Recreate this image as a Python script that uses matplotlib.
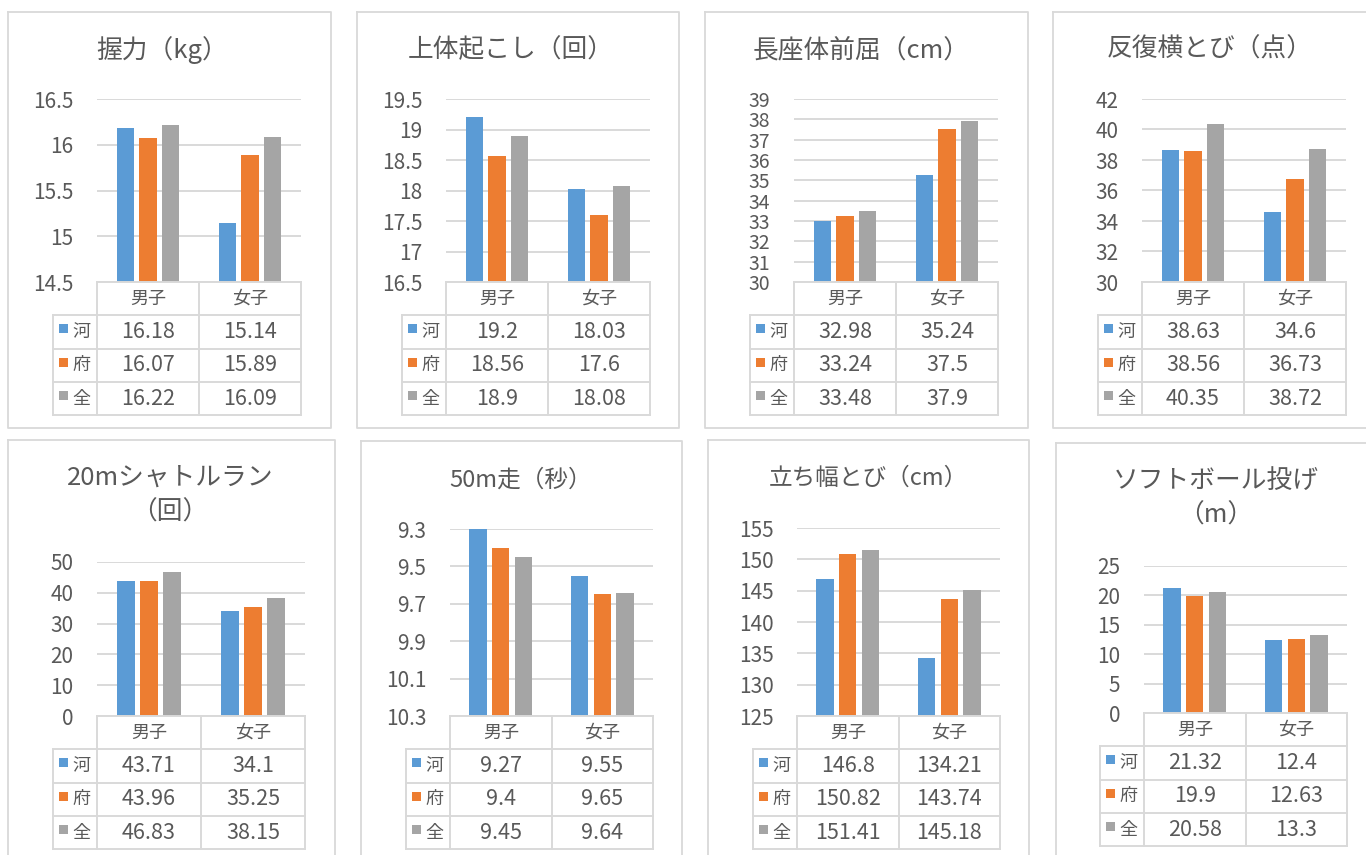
import matplotlib
matplotlib.use('Agg')
import matplotlib.pyplot as plt
import numpy as np

plt.rcParams['font.family'] = ['Noto Sans CJK JP', 'DejaVu Sans']

W, H = 1366, 855
TXT = '#595959'
LINE = '#D9D9D9'

categories = ['男子', '女子']
series_names = ['河', '府', '全']
colors = ['#5B9BD5', '#ED7D31', '#A5A5A5']

titles = ['握力（kg）', '上体起こし（回）', '長座体前屈（cm）', '反復横とび（点）',
          '20mシャトルラン\n（回）', '50m走（秒）', '立ち幅とび（cm）', 'ソフトボール投げ\n（m）']

# rows: 河, 府, 全 / columns: 男子, 女子
grip = [[16.18, 15.14], [16.07, 15.89], [16.22, 16.09]]
situp = [[19.2, 18.03], [18.56, 17.6], [18.9, 18.08]]
sitreach = [[32.98, 35.24], [33.24, 37.5], [33.48, 37.9]]
sidestep = [[38.63, 34.6], [38.56, 36.73], [40.35, 38.72]]
shuttle = [[43.71, 34.1], [43.96, 35.25], [46.83, 38.15]]
dash50 = [[9.27, 9.55], [9.4, 9.65], [9.45, 9.64]]
jump = [[146.8, 134.21], [150.82, 143.74], [151.41, 145.18]]
throw = [[21.32, 12.4], [19.9, 12.63], [20.58, 13.3]]

all_data = [grip, situp, sitreach, sidestep, shuttle, dash50, jump, throw]

# axis min, max, number of ticks, reversed?
y_ranges = [(14.5, 16.5, 5, False), (16.5, 19.5, 7, False), (30, 39, 10, False),
            (30, 42, 7, False), (0, 50, 6, False), (9.3, 10.3, 6, True),
            (125, 155, 7, False), (0, 25, 6, False)]

# layout in pixels: panel border box, plot box, title centre
borders = [(8, 12, 331, 428), (357, 12, 679, 428), (705, 12, 1028, 428), (1053, 12, 1380, 428),
           (8, 440, 335, 870), (361, 441, 682, 870), (708, 440, 1029, 870), (1056, 443, 1380, 870)]
plots = [(97, 99, 301, 282), (446, 99, 650, 282), (794, 99, 998, 282), (1142, 99, 1346, 282),
         (97, 562, 305, 716), (450, 529, 653, 716), (797, 528, 1000, 716), (1144, 566, 1347, 713)]
title_pos = [(162, 50), (511, 50), (861, 50), (1210, 50),
             (170, 478), (521, 480), (868, 478), (1216, 481)]
title_size = [18.5, 18.5, 18.5, 18.5, 18.5, 17, 17, 18.5]
tick_size = [15, 15, 14, 15, 15, 15, 15, 15]

fig = plt.figure(figsize=(W / 100, H / 100), dpi=100)
fig.patch.set_facecolor('white')

over = fig.add_axes([0, 0, 1, 1], zorder=5)
over.set_xlim(0, W)
over.set_ylim(H, 0)
over.axis('off')

ROW = 33.3
for i, data in enumerate(all_data):
    bx0, by0, bx1, by1 = borders[i]
    over.plot([bx0, bx1, bx1, bx0, bx0], [by0, by0, by1, by1, by0], color=LINE, lw=1.3)

    # title
    tx, ty = title_pos[i]
    for k, line in enumerate(titles[i].split('\n')):
        over.text(tx, ty + k * 35, line, ha='center', va='center', fontsize=title_size[i], color=TXT)

    # bars
    px0, py0, px1, py1 = plots[i]
    ax = fig.add_axes([px0 / W, 1 - py1 / H, (px1 - px0) / W, (py1 - py0) / H])
    lo, hi, n, rev = y_ranges[i]
    base = hi if rev else lo
    x = np.arange(len(categories))
    for s in range(3):
        vals = np.array(data[s])
        ax.bar(x + (s - 1) * 0.222, vals - base, bottom=base,
               width=0.172, color=colors[s], zorder=3)
    ticks = np.linspace(lo, hi, n)
    ax.set_yticks(ticks)
    ax.set_yticklabels([f'{round(t, 2):g}' for t in ticks], fontsize=tick_size[i], color=TXT)
    if rev:
        ax.set_ylim(hi, lo)
    else:
        ax.set_ylim(lo, hi)
    ax.set_xlim(-0.5, 1.5)
    ax.set_xticks([])
    ax.tick_params(axis='y', length=0, pad=17)
    ax.grid(axis='y', color=LINE, lw=1.4, zorder=0)
    for sp in ax.spines.values():
        sp.set_visible(False)
    ax.patch.set_alpha(0)

    # data table
    tl = px0 - 44
    mid = (px0 + px1) / 2
    top = py1
    rows_y = [top + ROW * r for r in range(5)]
    over.plot([px0, px1], [top, top], color=LINE, lw=1.4)
    for r in range(1, 5):
        over.plot([tl, px1], [rows_y[r], rows_y[r]], color=LINE, lw=1.4)
    for xv in (px0, mid, px1):
        over.plot([xv, xv], [top, rows_y[4]], color=LINE, lw=1.4)
    over.plot([tl, tl], [rows_y[1], rows_y[4]], color=LINE, lw=1.4)
    for c, cat in enumerate(categories):
        cx = px0 + (c + 0.5) * (px1 - px0) / 2
        over.text(cx, top + ROW / 2, cat, ha='center', va='center', fontsize=13, color=TXT)
    for s in range(3):
        ry = rows_y[s + 1]
        over.add_patch(plt.Rectangle((tl + 6, ry + 9), 9, 9, color=colors[s], lw=0))
        over.text(tl + 28, ry + ROW / 2, series_names[s], ha='center', va='center', fontsize=13, color=TXT)
        for c in range(2):
            cx = px0 + (c + 0.5) * (px1 - px0) / 2
            over.text(cx, ry + ROW / 2, f'{data[s][c]:g}', ha='center', va='center', fontsize=15.5, color=TXT)

fig.savefig('out.png', dpi=100, facecolor='white')
